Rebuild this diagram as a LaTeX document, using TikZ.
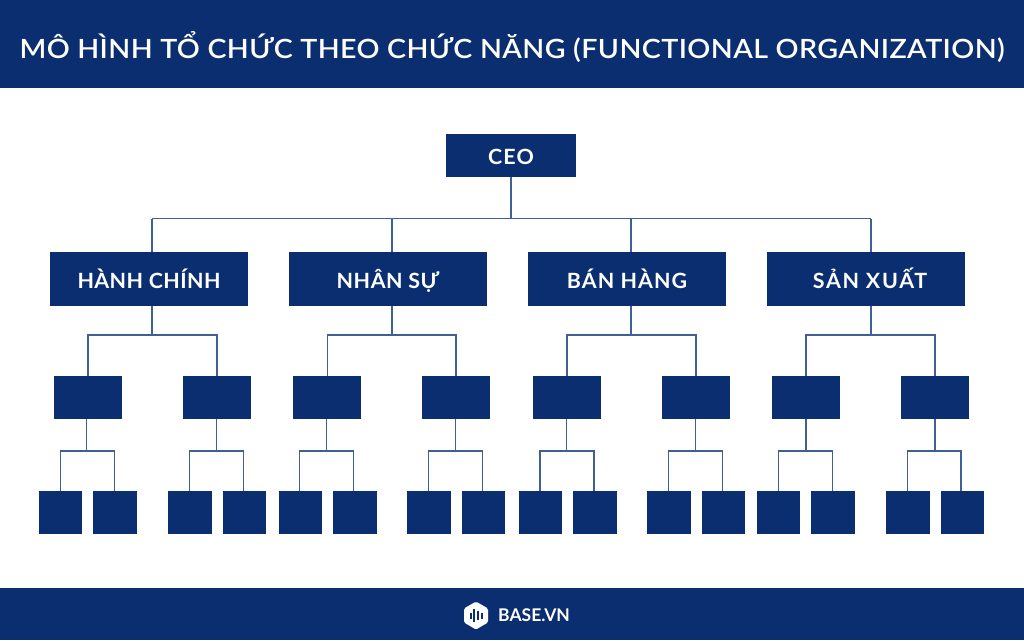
\documentclass[tikz,border=0pt]{standalone}
\usepackage{fontspec}
\setmainfont{Lato}
\definecolor{navy}{HTML}{0A2E6F}
\definecolor{wire}{HTML}{3F5F97}
\newfontfamily\titlefont[LetterSpace=1.5,FakeStretch=1.08]{Lato Semibold}
\newfontfamily\labelfont[FakeStretch=1.02]{Lato Bold}
\tikzset{
  x=1pt,y=-1pt,
  bigbox/.style={draw=none,fill=navy,text=white,inner sep=0pt,minimum width=198pt,minimum height=54pt,text height=18pt,text depth=0pt,font=\labelfont\fontsize{21}{25}\selectfont},
  ceobox/.style={bigbox,minimum width=130pt,minimum height=43pt,text height=17pt},
  midbox/.style={fill=navy,inner sep=0pt,minimum width=68pt,minimum height=43pt},
  leafbox/.style={fill=navy,inner sep=0pt,minimum width=43.4pt,minimum height=43.4pt},
  wired/.style={draw=wire,line width=1.25pt},
  band/.style={fill=navy,inner sep=0pt,minimum width=1024pt,anchor=north west}
}
\begin{document}
\begin{tikzpicture}
\useasboundingbox (0,0) rectangle (1024,640);
\fill[white] (0,0) rectangle (1024,640);
\node[band,minimum height=88pt] (head) at (0,0) {};
\node[band,minimum height=52pt] (foot) at (0,588) {};
\node[text=white,inner sep=0pt,text height=20pt,text depth=0pt,font=\titlefont\fontsize{26.5}{30}\selectfont] (title) at (512,48) {MÔ HÌNH TỔ CHỨC THEO CHỨC NĂNG (FUNCTIONAL ORGANIZATION)};
\node[ceobox] (ceo) at (511,155.5) {\addfontfeature{LetterSpace=6}CEO};
\coordinate (busL) at (152,218.5);
\coordinate (busR) at (871,218.5);
\coordinate (busM) at (511,218.5);
\draw[wired] (ceo.south) -- (busM);
\draw[wired] (busL) -- (busR);
% group: index / label / letter spacing / label shift / box x / drop x / mid-left x / mid-right x /
%        leaf centres a,b,c,e / wires a,b,c,e / stems l,r
\foreach \i/\t/\ls/\sh/\bx/\dx/\ml/\mr/\la/\lb/\lc/\le/\wa/\wb/\wc/\we/\sl/\sr in {
  0/HÀNH CHÍNH/2/0/149/152/88/217/60.4/115/190/244.7/60.7/114.7/189.3/243.3/86.7/216.3,
  1/NHÂN SỰ/2.5/0/388/392/327.3/456/300.4/355/429/483.7/299.3/353.7/428.3/482.3/326.7/455.7,
  2/BÁN HÀNG/5/0/627/631/567/696/540.4/595/669/723.4/540/594/668.3/722.3/566.7/695.7,
  3/SẢN XUẤT/8/8/866/871/806/935/778.4/833/908/962.7/778.7/832.7/907.3/961/806/935}{
    \node[bigbox] (d\i) at (\bx,279) {\addfontfeature{LetterSpace=\ls}\hspace*{\sh pt}\t};
    \coordinate (dbus\i) at (\dx,218.5);
    \coordinate (hub\i) at (\dx,335);
    \node[midbox] (ml\i) at (\ml,397.5) {};
    \node[midbox] (mr\i) at (\mr,397.5) {};
    \coordinate (mlt\i) at (\ml,335);
    \coordinate (mrt\i) at (\mr,335);
    \coordinate (lh\i) at (\sl,451);
    \coordinate (rh\i) at (\sr,451);
    \coordinate (a\i) at (\wa,451);
    \coordinate (b\i) at (\wb,451);
    \coordinate (c\i) at (\wc,451);
    \coordinate (e\i) at (\we,451);
    \node[leafbox] (la\i) at (\la,512.5) {};
    \node[leafbox] (lb\i) at (\lb,512.5) {};
    \node[leafbox] (lc\i) at (\lc,512.5) {};
    \node[leafbox] (le\i) at (\le,512.5) {};
    \draw[wired] (dbus\i) -- (d\i.north -| dbus\i);
    \draw[wired] (d\i.south -| hub\i) -- (hub\i);
    \draw[wired] (ml\i.north -| mlt\i) -- (mlt\i) -- (mrt\i) -- (mr\i.north -| mrt\i);
    \draw[wired] (ml\i.south -| lh\i) -- (lh\i);
    \draw[wired] (mr\i.south -| rh\i) -- (rh\i);
    \draw[wired] (la\i.north -| a\i) -- (a\i) -- (b\i) -- (lb\i.north -| b\i);
    \draw[wired] (lc\i.north -| c\i) -- (c\i) -- (e\i) -- (le\i.north -| e\i);
}
\fill[white,rounded corners=1.5pt] (476,601.5) -- (488,608.5) -- (488,622.5) -- (476,629.5) -- (464,622.5) -- (464,608.5) -- cycle;
\foreach \bx/\bh in {470.5/3,474.3/6.5,478/4.5,481.7/3}{
  \fill[navy] (\bx-1,615.5-\bh) rectangle (\bx+1,615.5+\bh);
}
\node[text=white,anchor=west,inner sep=0pt,font=\fontspec{Lato Bold}\fontsize{17.5}{20}\selectfont] (brand) at (498,615.5) {BASE.VN};
\end{tikzpicture}
\end{document}
